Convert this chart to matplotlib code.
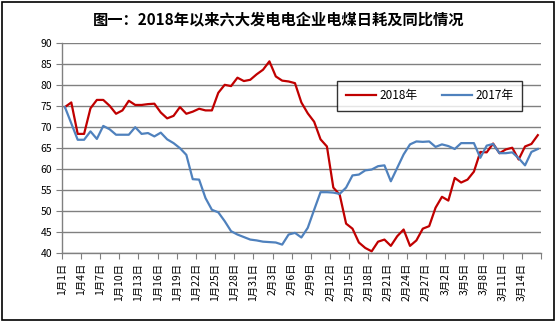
import matplotlib
matplotlib.use('Agg')
import matplotlib.pyplot as plt
from matplotlib.patches import Rectangle
import numpy as np
import pandas as pd

plt.rcParams['font.family'] = ['Noto Sans CJK SC', 'DejaVu Sans']

# categories: daily from 1月1日 to 3月16日
dates = pd.date_range('2018-01-01', periods=75)
date_labels = [f'{d.month}月{d.day}日' for d in dates]

coal_2018 = [74.8, 75.9, 68.4, 68.4, 74.5, 76.5, 76.5, 75.1, 73.2, 74.0,
             76.3, 75.3, 75.3, 75.5, 75.6, 73.5, 72.1, 72.7, 74.8, 73.2,
             73.7, 74.4, 74.0, 74.0, 78.2, 80.1, 79.8, 81.8, 81.0, 81.3,
             82.6, 83.7, 85.7, 82.1, 81.1, 80.9, 80.5, 75.9, 73.3, 71.3,
             67.1, 65.4, 55.6, 53.9, 47.0, 45.8, 42.5, 41.2, 40.4, 42.7,
             43.2, 41.7, 44.0, 45.6, 41.7, 43.0, 45.8, 46.4, 50.8, 53.4,
             52.5, 57.9, 56.8, 57.5, 59.4, 64.1, 64.0, 66.1, 63.8, 64.7,
             65.1, 62.3, 65.4, 66.0, 68.1]

coal_2017 = [74.8, 70.9, 67.0, 67.0, 69.0, 67.2, 70.3, 69.5, 68.2, 68.2,
             68.2, 70.0, 68.4, 68.6, 67.8, 68.7, 67.1, 66.2, 65.0, 63.4,
             57.6, 57.5, 53.1, 50.3, 49.7, 47.6, 45.2, 44.4, 43.8, 43.2,
             43.0, 42.7, 42.6, 42.5, 42.0, 44.4, 44.8, 43.7, 46.0, 50.3,
             54.5, 54.5, 54.4, 54.1, 55.6, 58.5, 58.7, 59.7, 59.9, 60.7,
             60.9, 57.1, 60.3, 63.5, 65.9, 66.6, 66.5, 66.6, 65.3, 65.9,
             65.5, 64.8, 66.2, 66.2, 66.2, 62.7, 65.6, 66.0, 63.8, 63.8,
             64.0, 62.6, 60.9, 64.1, 64.8]

x = np.arange(len(dates))

fig = plt.figure(figsize=(5.57, 3.22), dpi=100)
fig.patches.append(Rectangle((0.004, 0.006), 0.99, 0.988, transform=fig.transFigure,
                             fill=False, edgecolor='black', linewidth=1.2))
ax = fig.add_axes([0.1108, 0.2143, 0.8605, 0.6512])

ax.plot(x, coal_2018, color='#C00000', linewidth=1.6, label='2018年')
ax.plot(x, coal_2017, color='#4F81BD', linewidth=1.6, label='2017年')

ax.set_ylim(40, 90)
ax.set_yticks(np.arange(40, 91, 5))
ax.set_xlim(-0.5, len(x) - 0.5)
tick_pos = np.arange(-0.5, len(x), 3)
ax.set_xticks(tick_pos)
ax.set_xticklabels([date_labels[int(p + 0.5)] if int(p + 0.5) < len(x) else '' for p in tick_pos],
                   rotation=90, fontsize=7.5)
ax.tick_params(axis='y', labelsize=7.5, length=4, color='#808080', pad=3)
ax.tick_params(axis='x', length=4, color='#808080', pad=3)

ax.grid(axis='y', color='#808080', linewidth=1)
ax.set_axisbelow(True)
for s in ['top', 'right']:
    ax.spines[s].set_visible(False)
for s in ['left', 'bottom']:
    ax.spines[s].set_color('#808080')
    ax.spines[s].set_linewidth(1)

leg = ax.legend(ncol=2, loc='center', bbox_to_anchor=(0.768, 0.749), fontsize=8.5,
                frameon=True, fancybox=False, edgecolor='black', handlelength=2.6,
                handletextpad=0.3, columnspacing=2.0, borderpad=0.7)
leg.get_frame().set_linewidth(1)

fig.suptitle('图一：2018年以来六大发电电企业电煤日耗及同比情况', x=0.5, y=0.965,
             fontsize=11, fontweight='bold')

fig.savefig('out.png', dpi=100)
